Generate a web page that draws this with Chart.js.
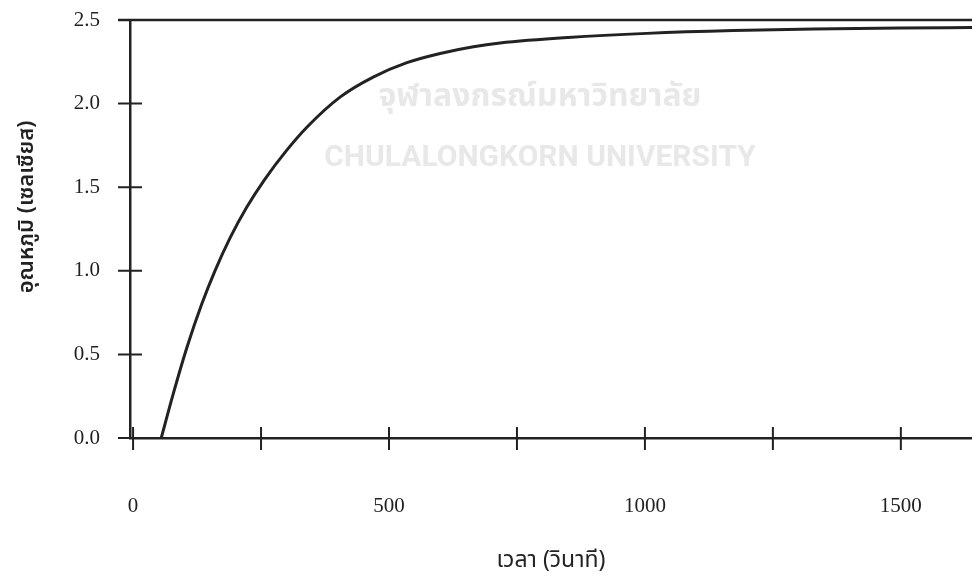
<!DOCTYPE html>
<html>
<head>
<meta charset="utf-8">
<script src="https://cdn.jsdelivr.net/npm/chart.js@4.4.1/dist/chart.umd.min.js"></script>
<style>
  html, body { margin: 0; padding: 0; background: #fff; }
  #wrap { width: 972px; height: 576px; position: relative; }
</style>
</head>
<body>
<div id="wrap"><canvas id="myChart"></canvas></div>
<script>
'use strict';

// Data
const timeSec = [55, 79, 105, 134, 160, 190, 222, 258, 300, 340, 405, 470, 535, 600, 665, 717, 850, 1004, 1173, 1330, 1500, 1640];
const tempC = [0.0, 0.27, 0.54, 0.80, 1.00, 1.20, 1.38, 1.55, 1.72, 1.86, 2.04, 2.16, 2.245, 2.30, 2.34, 2.362, 2.395, 2.42, 2.437, 2.446, 2.452, 2.455];

const xTicks = [0, 250, 500, 750, 1000, 1250, 1500];
const xTickLabels = ['0', '', '500', '', '1000', '', '1500'];
const yTicks = [0, 0.5, 1.0, 1.5, 2.0, 2.5];

const xTitle = 'เวลา (วินาที)';
const yTitle = 'อุณหภูมิ (เซลเซียส)';
const watermarkThai = 'จุฬาลงกรณ์มหาวิทยาลัย';
const watermarkEng = 'CHULALONGKORN UNIVERSITY';

const ink = '#222222';
const thaiFont = '"Noto Sans Thai", "Noto Sans", "DejaVu Sans", sans-serif';
const ctx = document.querySelector('#myChart').getContext('2d');

// drop the label overflow padding so the plot fills the frame
const noPad = scale => {
  scale.paddingTop = 0;
  scale.paddingBottom = 0;
  scale.paddingLeft = 0;
  scale.paddingRight = 0;
};

// faint scan watermark behind the curve
const watermark = {
  id: 'watermark',
  beforeDatasetsDraw(chart) {
    const c = chart.ctx;
    c.save();
    c.textAlign = 'center';
    c.textBaseline = 'middle';
    c.fillStyle = '#e8e8e8';
    c.font = 'bold 32px ' + thaiFont;
    c.fillText(watermarkThai, 540, 100);
    c.font = 'bold 30px "Liberation Sans Narrow", "Roboto", sans-serif';
    c.fillText(watermarkEng, 540, 158);
    c.restore();
  }
};

// crossing tick marks, top frame line and y title
const frame = {
  id: 'frame',
  afterDraw(chart) {
    const c = chart.ctx;
    const x = chart.scales.x, y = chart.scales.y;
    const area = chart.chartArea;
    c.save();
    c.strokeStyle = ink;
    c.lineWidth = 2;
    c.beginPath();
    xTicks.forEach(v => {
      const px = x.getPixelForValue(v);
      c.moveTo(px, area.bottom - 11);
      c.lineTo(px, area.bottom + 12);
    });
    yTicks.forEach(v => {
      const py = y.getPixelForValue(v);
      c.moveTo(area.left - 12, py);
      c.lineTo(area.left + 12, py);
    });
    c.stroke();
    c.lineWidth = 2.5;
    c.beginPath();
    c.moveTo(area.left - 12, area.top);
    c.lineTo(area.right, area.top);
    c.stroke();

    c.translate(29, 207);
    c.rotate(-Math.PI / 2);
    c.fillStyle = ink;
    c.textAlign = 'center';
    c.textBaseline = 'middle';
    c.font = '600 22px ' + thaiFont;
    c.fillText(yTitle, 0, 0);
    c.restore();
  }
};

const myChart = new Chart(ctx, {
  type: 'line',
  data: {
    datasets: [{
      data: timeSec.map((t, i) => ({ x: t, y: tempC[i] })),
      borderColor: ink,
      borderWidth: 3,
      pointRadius: 0,
      cubicInterpolationMode: 'monotone',
      fill: false
    }]
  },
  options: {
    responsive: true,
    maintainAspectRatio: false,
    animation: false,
    layout: { padding: { top: 20, right: 0, left: 0, bottom: 0 } },
    scales: {
      x: {
        type: 'linear',
        min: -6,
        max: 1639,
        afterBuildTicks: scale => { scale.ticks = xTicks.map(v => ({ value: v })); },
        afterFit: scale => { scale.height = 138; noPad(scale); },
        grid: { display: false, drawTicks: false },
        border: { display: true, color: ink, width: 2.5 },
        ticks: {
          padding: 56,
          color: ink,
          font: { family: '"Liberation Serif", serif', size: 21 },
          maxRotation: 0,
          autoSkip: false,
          callback: (value, index) => xTickLabels[index]
        },
        title: {
          display: true,
          text: xTitle,
          color: ink,
          font: { family: thaiFont, size: 23 },
          padding: { top: 10, bottom: 0 }
        }
      },
      y: {
        min: 0,
        max: 2.5,
        afterBuildTicks: scale => { scale.ticks = yTicks.map(v => ({ value: v })); },
        afterFit: scale => { scale.width = 130; noPad(scale); },
        grid: { display: false, drawTicks: false },
        border: { display: true, color: ink, width: 2.5 },
        ticks: {
          padding: 30,
          color: ink,
          font: { family: '"Liberation Serif", serif', size: 21 },
          callback: value => value.toFixed(1)
        }
      }
    },
    plugins: {
      legend: { display: false },
      tooltip: { enabled: false }
    }
  },
  plugins: [watermark, frame]
});
</script>
</body>
</html>
